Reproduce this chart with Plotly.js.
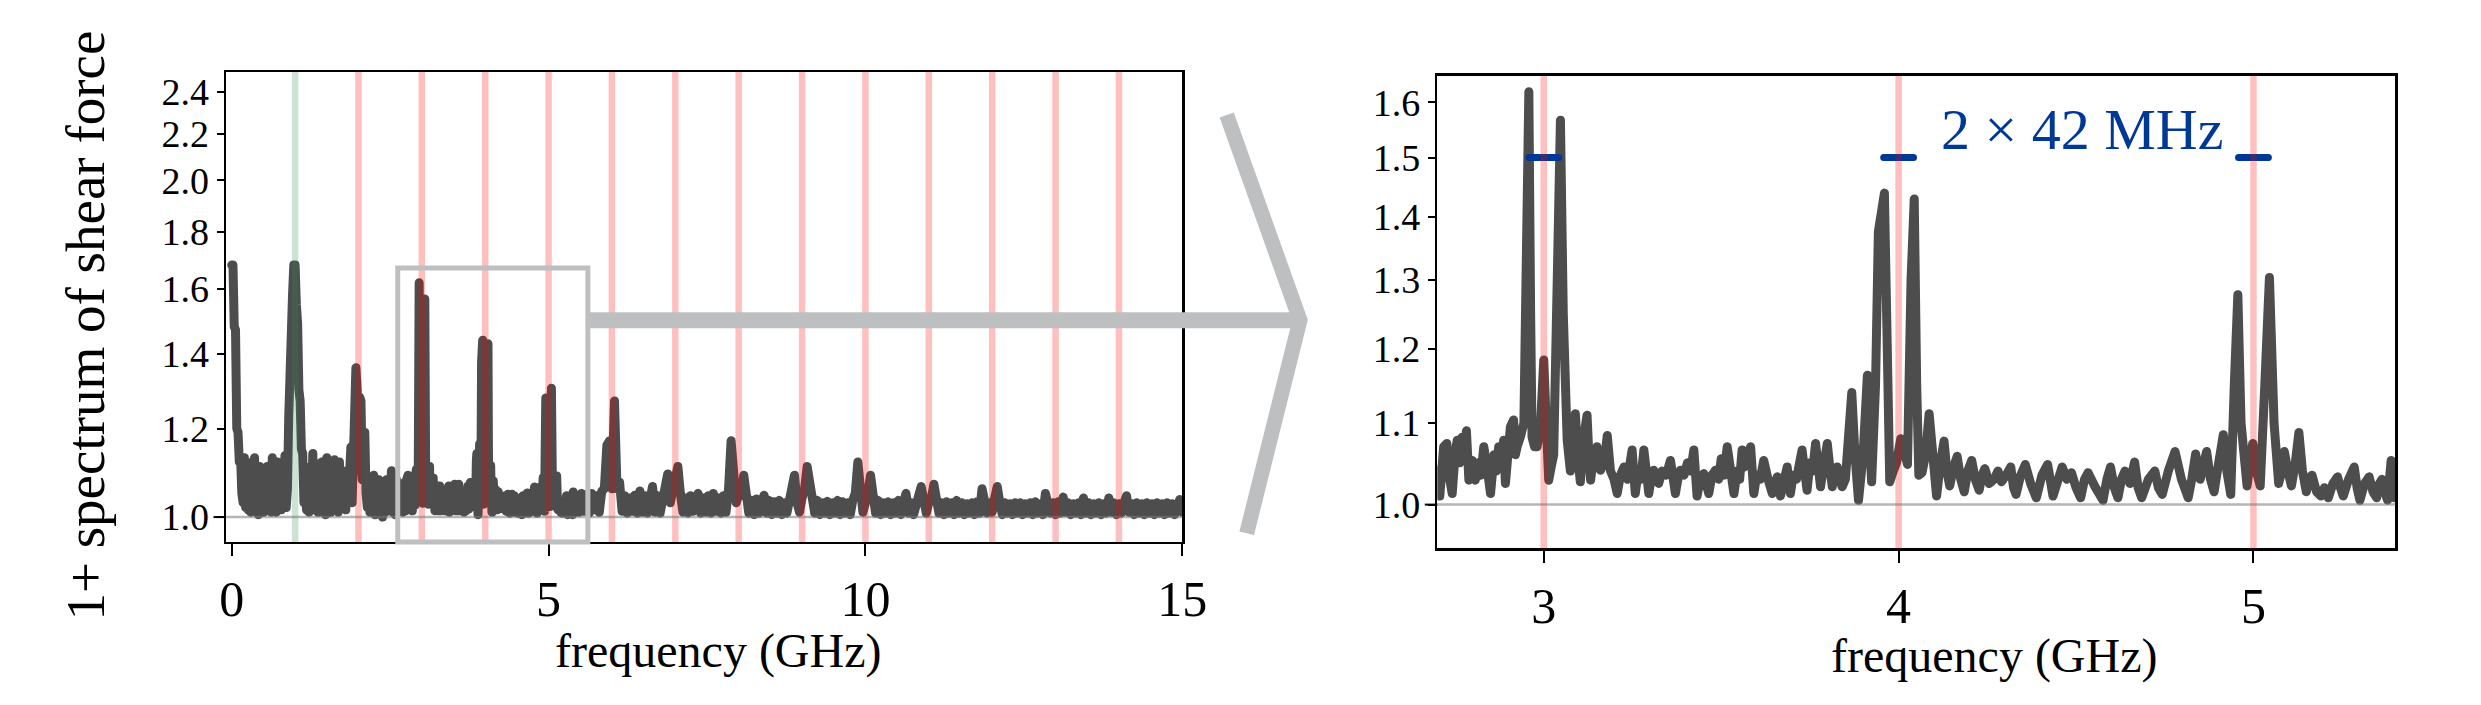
<!DOCTYPE html>
<html><head><meta charset="utf-8">
<script src="https://cdn.plot.ly/plotly-3.0.1.min.js"></script>
<style>
html,body{margin:0;padding:0;background:#fff;}
#chart{width:2481px;height:705px;}
.scatterlayer .js-line{stroke-linecap:round;stroke-linejoin:round;}
</style>
</head><body><div id="chart"></div>
<script>
// ---------- data (GHz, 1 + spectrum) ----------
const lowFreq = [
0.00,0.02,0.04,0.06,0.08,0.10,0.12,0.14,0.16,0.18,
0.20,0.22,0.24,0.26,0.28,0.30,0.32,0.34,0.36,0.38,
0.40,0.42,0.44,0.46,0.48,0.50,0.52,0.54,0.56,0.58,
0.60,0.62,0.64,0.66,0.68,0.70,0.72,0.74,0.76,0.78,
0.80,0.82,0.84,0.86,0.88,0.90,0.92,0.94,0.96,0.98,
1.00,1.02,1.04,1.06,1.08,1.10,1.12,1.14,1.16,1.18,
1.20,1.22,1.24,1.26,1.28,1.30,1.32,1.34,1.36,1.38,
1.40,1.42,1.44,1.46,1.48,1.50,1.52,1.54,1.56,1.58,
1.60,1.62,1.64,1.66,1.68,1.70,1.72,1.74,1.76,1.78,
1.80,1.82,1.84,1.86,1.88,1.90,1.92,1.94,1.96,1.98,
2.00,2.02,2.04,2.06,2.08,2.10,2.12,2.14,2.16,2.18,
2.20,2.22,2.24,2.26,2.28,2.30,2.32,2.34,2.36,2.38,
2.40,2.42,2.44,2.46,2.48,2.50,2.52,2.54,2.56,2.58,
2.60,2.62,2.64,2.66,2.68];
const lowAmp = [
1.68,1.68,1.48,1.47,1.20,1.19,1.12,1.13,1.05,1.03,
1.13,1.02,1.10,1.015,1.09,1.01,1.12,1.02,1.13,1.01,
1.08,1.005,1.11,1.02,1.07,1.01,1.10,1.015,1.11,1.02,
1.06,1.01,1.13,1.03,1.12,1.01,1.12,1.02,1.09,1.015,
1.11,1.03,1.135,1.02,1.06,1.23,1.50,1.53,1.58,1.68,
1.68,1.55,1.49,1.30,1.27,1.15,1.14,1.03,1.10,1.015,
1.09,1.01,1.11,1.02,1.14,1.015,1.08,1.116,1.01,1.09,
1.02,1.12,1.01,1.11,1.005,1.13,1.02,1.12,1.01,1.10,
1.015,1.125,1.02,1.11,1.01,1.12,1.03,1.10,1.02,1.09,
1.015,1.10,1.03,1.08,1.155,1.03,1.15,1.36,1.36,1.30,
1.10,1.28,1.27,1.08,1.19,1.19,1.05,1.02,1.08,1.01,
1.07,1.02,1.09,1.005,1.06,1.01,1.08,1.02,1.07,1.00,
1.06,1.01,1.08,1.015,1.05,1.02,1.10,1.01,1.07,1.005,
1.08,1.01,1.07,1.02,1.06];

const zoomFreq = [
2.700,2.707,2.718,2.727,2.735,2.742,2.750,2.756,2.763,2.770,
2.776,2.782,2.789,2.798,2.807,2.815,2.823,2.831,2.840,2.850,
2.860,2.866,2.873,2.880,2.887,2.892,2.899,2.906,2.915,2.920,
2.925,2.934,2.944,2.950,2.958,2.963,2.967,2.974,2.981,2.990,
3.000,3.007,3.014,3.021,3.028,3.038,3.047,3.055,3.060,3.066,
3.075,3.082,3.089,3.096,3.103,3.112,3.122,3.127,3.132,3.141,
3.150,3.160,3.170,3.179,3.188,3.198,3.207,3.216,3.226,3.236,
3.249,3.258,3.266,3.274,3.282,3.289,3.296,3.304,3.310,3.317,
3.324,3.333,3.345,3.357,3.364,3.371,3.378,3.385,3.395,3.405,
3.414,3.423,3.432,3.441,3.451,3.458,3.465,3.474,3.484,3.493,
3.500,3.508,3.517,3.527,3.536,3.545,3.552,3.559,3.566,3.575,
3.583,3.592,3.600,3.610,3.620,3.632,3.644,3.651,3.658,3.667,
3.676,3.686,3.695,3.703,3.712,3.720,3.728,3.735,3.742,3.750,
3.758,3.766,3.773,3.780,3.790,3.799,3.806,3.813,3.820,3.827,
3.834,3.841,3.850,3.860,3.868,3.877,3.887,3.900,3.912,3.918,
3.924,3.935,3.943,3.960,3.968,3.975,3.985,3.994,4.006,4.015,
4.025,4.035,4.044,4.051,4.057,4.066,4.076,4.086,4.097,4.107,
4.118,4.128,4.136,4.144,4.155,4.165,4.175,4.185,4.195,4.206,
4.216,4.227,4.235,4.243,4.255,4.269,4.280,4.290,4.303,4.316,
4.324,4.331,4.344,4.357,4.372,4.388,4.404,4.420,4.435,4.448,
4.461,4.474,4.487,4.500,4.513,4.524,4.534,4.555,4.576,4.587,
4.597,4.608,4.618,4.628,4.638,4.652,4.665,4.675,4.685,4.704,
4.722,4.732,4.743,4.760,4.779,4.797,4.816,4.826,4.837,4.850,
4.868,4.879,4.889,4.902,4.915,4.925,4.936,4.946,4.956,4.965,
4.982,4.990,4.998,5.008,5.019,5.032,5.045,5.058,5.071,5.080,
5.087,5.097,5.107,5.118,5.128,5.138,5.149,5.157,5.165,5.178,
5.190,5.200,5.211,5.224,5.237,5.245,5.253,5.268,5.284,5.292,
5.300,5.313,5.326,5.337,5.347,5.355,5.362,5.370,5.378,5.388,
5.397];
const zoomAmp = [
1.012,1.010,1.070,1.074,1.030,1.013,1.060,1.078,1.050,1.082,
1.055,1.090,1.029,1.053,1.029,1.050,1.035,1.070,1.045,1.013,
1.060,1.040,1.070,1.050,1.078,1.025,1.060,1.095,1.104,1.060,
1.070,1.082,1.100,1.300,1.620,1.250,1.082,1.070,1.070,1.090,
1.184,1.100,1.029,1.045,1.060,1.300,1.567,1.250,1.100,1.078,
1.040,1.090,1.112,1.060,1.027,1.080,1.110,1.060,1.029,1.060,
1.070,1.041,1.050,1.084,1.040,1.030,1.013,1.035,1.045,1.030,
1.066,1.013,1.040,1.030,1.066,1.040,1.013,1.035,1.041,1.030,
1.025,1.040,1.035,1.053,1.030,1.013,1.030,1.041,1.035,1.050,
1.040,1.066,1.010,1.030,1.037,1.025,1.013,1.035,1.041,1.030,
1.055,1.035,1.070,1.040,1.013,1.040,1.030,1.066,1.045,1.060,
1.070,1.013,1.035,1.030,1.053,1.030,1.013,1.025,1.033,1.010,
1.030,1.045,1.013,1.035,1.030,1.055,1.066,1.040,1.017,1.050,
1.040,1.074,1.045,1.021,1.050,1.074,1.045,1.021,1.040,1.045,
1.030,1.021,1.030,1.120,1.140,1.060,1.005,1.060,1.163,1.080,
1.027,1.150,1.376,1.439,1.150,1.027,1.040,1.050,1.080,1.060,
1.048,1.300,1.429,1.150,1.035,1.038,1.060,1.112,1.040,1.010,
1.050,1.077,1.040,1.022,1.045,1.058,1.030,1.015,1.040,1.053,
1.030,1.017,1.035,1.043,1.025,1.030,1.040,1.027,1.035,1.045,
1.020,1.012,1.035,1.048,1.025,1.008,1.035,1.048,1.010,1.030,
1.045,1.030,1.038,1.020,1.008,1.030,1.038,1.020,1.005,1.030,
1.045,1.020,1.008,1.030,1.040,1.025,1.051,1.020,1.008,1.030,
1.040,1.020,1.012,1.040,1.064,1.030,1.008,1.030,1.061,1.030,
1.064,1.030,1.015,1.050,1.085,1.040,1.012,1.150,1.278,1.100,
1.022,1.050,1.074,1.040,1.022,1.150,1.304,1.100,1.025,1.040,
1.064,1.040,1.022,1.050,1.088,1.040,1.015,1.030,1.035,1.015,
1.010,1.020,1.008,1.025,1.033,1.020,1.010,1.030,1.045,1.020,
1.005,1.025,1.033,1.015,1.008,1.025,1.030,1.015,1.005,1.053,
1.008];

const highFreq = [
5.44,5.48,5.52,5.56,5.60,5.64,5.68,5.72,5.76,5.80,5.84,5.88,5.92,5.96,6.00,6.04,6.08,6.12,6.16,6.20,6.24,6.28,6.32,6.36,6.40,
6.44,6.48,6.52,6.56,6.60,6.64,6.68,6.72,6.76,6.80,6.84,6.88,6.92,6.96,7.00,7.04,7.08,7.12,7.16,7.20,7.24,7.28,7.32,7.36,7.40,
7.44,7.48,7.52,7.56,7.60,7.64,7.68,7.72,7.76,7.80,7.84,7.88,7.92,7.96,8.00,8.04,8.08,8.12,8.16,8.20,8.24,8.28,8.32,8.36,8.40,
8.44,8.48,8.52,8.56,8.60,8.64,8.68,8.72,8.76,8.80,8.84,8.88,8.92,8.96,9.00,9.04,9.08,9.12,9.16,9.20,9.24,9.28,9.32,9.36,9.40,
9.44,9.48,9.52,9.56,9.60,9.64,9.68,9.72,9.76,9.80,9.84,9.88,9.92,9.96,10.00,10.04,10.08,10.12,10.16,10.20,10.24,10.28,10.32,10.36,10.40,
10.44,10.48,10.52,10.56,10.60,10.64,10.68,10.72,10.76,10.80,10.84,10.88,10.92,10.96,11.00,11.04,11.08,11.12,11.16,11.20,11.24,11.28,11.32,11.36,11.40,
11.44,11.48,11.52,11.56,11.60,11.64,11.68,11.72,11.76,11.80,11.84,11.88,11.92,11.96,12.00,12.04,12.08,12.12,12.16,12.20,12.24,12.28,12.32,12.36,12.40,
12.44,12.48,12.52,12.56,12.60,12.64,12.68,12.72,12.76,12.80,12.84,12.88,12.92,12.96,13.00,13.04,13.08,13.12,13.16,13.20,13.24,13.28,13.32,13.36,13.40,
13.44,13.48,13.52,13.56,13.60,13.64,13.68,13.72,13.76,13.80,13.84,13.88,13.92,13.96,14.00,14.04,14.08,14.12,14.16,14.20,14.24,14.28,14.32,14.36,14.40,
14.44,14.48,14.52,14.56,14.60,14.64,14.68,14.72,14.76,14.80,14.84,14.88,14.92,14.96,15.00];
const highAmp = [
1.045,1.010,1.050,1.012,1.048,1.008,1.050,1.015,1.045,1.010,1.055,1.06,1.16,1.17,1.06,1.27,1.06,1.075,1.012,1.045,1.008,1.040,1.012,1.046,1.008,
1.055,1.010,1.045,1.008,1.040,1.065,1.010,1.045,1.008,1.040,1.070,1.093,1.030,1.050,1.070,1.110,1.050,1.010,1.040,1.008,1.045,1.012,1.035,1.050,1.008,
1.040,1.010,1.045,1.008,1.050,1.012,1.040,1.008,1.045,1.010,1.060,1.170,1.095,1.030,1.050,1.045,1.090,1.040,1.008,1.035,1.005,1.038,1.008,1.030,1.046,
1.008,1.035,1.005,1.032,1.008,1.035,1.005,1.030,1.008,1.035,1.050,1.090,1.030,1.010,1.040,1.060,1.110,1.070,1.040,1.008,1.035,1.005,1.030,1.008,1.033,
1.005,1.030,1.008,1.035,1.005,1.032,1.008,1.030,1.005,1.035,1.050,1.120,1.060,1.010,1.030,1.050,1.090,1.050,1.008,1.035,1.005,1.030,1.008,1.032,1.005,
1.030,1.008,1.035,1.005,1.030,1.050,1.008,1.030,1.005,1.035,1.045,1.065,1.030,1.008,1.030,1.040,1.070,1.040,1.008,1.030,1.005,1.032,1.008,1.030,1.005,
1.035,1.008,1.030,1.005,1.028,1.008,1.030,1.005,1.032,1.008,1.060,1.030,1.008,1.030,1.010,1.040,1.065,1.030,1.005,1.030,1.008,1.028,1.005,1.030,1.008,
1.030,1.005,1.028,1.008,1.030,1.005,1.032,1.008,1.028,1.005,1.050,1.030,1.008,1.030,1.005,1.032,1.008,1.042,1.010,1.030,1.005,1.028,1.008,1.030,1.005,
1.040,1.008,1.030,1.005,1.028,1.008,1.030,1.005,1.028,1.008,1.040,1.010,1.030,1.005,1.028,1.008,1.030,1.045,1.010,1.028,1.005,1.030,1.008,1.028,1.005,
1.030,1.008,1.028,1.005,1.030,1.008,1.028,1.005,1.030,1.008,1.028,1.005,1.030,1.037,1.010];

const driveFreqs = [1];                       // green marker line
const harmonicFreqs = [2,3,4,5,6,7,8,9,10,11,12,13,14];
const zoomHarmonics = [3,4,5];
const splitHalfWidth = 0.042;                 // GHz (42 MHz)
const splitLevel = 1.5;
const splitLabel = '2 \u00d7 42 MHz';
const splitLabelPos = {x: 4.518, y: 1.55};
const zoomBoxX = [2.62, 5.62];
const zoomBoxY = [0.95, 1.67];
const arrowLevel = 1.5;
const xTicksLeft = [0,5,10,15];
const yTicksLeft = [1.0,1.2,1.4,1.6,1.8,2.0,2.2,2.4];
const xTicksRight = [3,4,5];
const yTicksRight = [1.0,1.1,1.2,1.3,1.4,1.5,1.6];
const xTitle = 'frequency (GHz)';
const yTitle = '1+ spectrum of shear force';

// ---------- build ----------
const allFreq = lowFreq.concat(zoomFreq, highFreq);
const allAmp = lowAmp.concat(zoomAmp, highAmp);

const FONT = 'Liberation Serif, Times New Roman, serif';
const XTICK = 50, YTICK = 38;
const baseAxis = {
  showline:true, mirror:true, linewidth:2.5, linecolor:'#000',
  ticks:'outside', tickwidth:2, tickcolor:'#000',
  showgrid:false, zeroline:false, color:'#000', fixedrange:true
};
const layout = {
  width:2481, height:705,
  margin:{l:0,r:0,t:0,b:0,pad:0},
  paper_bgcolor:'#fff', plot_bgcolor:'#fff', showlegend:false,
  font:{family:FONT, color:'#000'},
  xaxis:Object.assign({}, baseAxis, {domain:[0.091093,0.476542], range:[-0.09,15], anchor:'y',
        tickvals:xTicksLeft, ticktext:xTicksLeft.map(String), ticklen:12, tickfont:{size:XTICK, family:FONT}}),
  yaxis:Object.assign({}, baseAxis, {domain:[0.231206,0.897872], type:'log', range:[Math.log10(0.95), Math.log10(2.5)], anchor:'x',
        tickvals:yTicksLeft, ticktext:yTicksLeft.map(v=>v.toFixed(1)), ticklen:7, tickfont:{size:YTICK, family:FONT}}),
  xaxis2:Object.assign({}, baseAxis, {domain:[0.579323,0.965498], range:[2.7,5.4], anchor:'y2',
        tickvals:xTicksRight, ticktext:xTicksRight.map(String), ticklen:12, tickfont:{size:XTICK, family:FONT}}),
  yaxis2:Object.assign({}, baseAxis, {domain:[0.221986,0.892199], type:'log', range:[Math.log10(0.95), Math.log10(1.65)], anchor:'x2',
        tickvals:yTicksRight, ticktext:yTicksRight.map(v=>v.toFixed(1)), ticklen:7, tickfont:{size:YTICK, family:FONT}}),
  shapes:[], annotations:[]
};

function toPaper(axName, v){
  const a = layout[axName];
  const t = a.type === 'log' ? Math.log10(v) : v;
  return a.domain[0] + (t - a.range[0]) / (a.range[1] - a.range[0]) * (a.domain[1] - a.domain[0]);
}

const RED = 'rgba(255,0,0,0.25)';
const GREEN = 'rgba(46,139,87,0.25)';
driveFreqs.forEach(f => layout.shapes.push({type:'line', xref:'x', yref:'y domain', x0:f, x1:f, y0:0, y1:1, layer:'above', line:{color:GREEN, width:6.5}}));
harmonicFreqs.forEach(f => layout.shapes.push({type:'line', xref:'x', yref:'y domain', x0:f, x1:f, y0:0, y1:1, layer:'above', line:{color:RED, width:6.5}}));
zoomHarmonics.forEach(f => layout.shapes.push({type:'line', xref:'x2', yref:'y2 domain', x0:f, x1:f, y0:0, y1:1, layer:'above', line:{color:RED, width:6.5}}));
// baseline at 1
[['x','y'],['x2','y2']].forEach(([xr,yr]) => layout.shapes.push({type:'line', xref:xr+' domain', yref:yr, x0:0, x1:1, y0:1, y1:1, layer:'above', line:{color:'rgba(120,120,120,0.55)', width:2.5}}));
// longer major tick at 1.0
[['xaxis','yaxis'],['xaxis2','yaxis2']].forEach(([xa,ya]) => {
  const x0 = layout[xa].domain[0];
  const yy = toPaper(ya, 1.0);
  layout.shapes.push({type:'line', xref:'paper', yref:'paper', x0:x0 - 12.5/2481, x1:x0, y0:yy, y1:yy, line:{color:'#000', width:2}});
});
// zoom box + arrow
const GREY = '#bebfc1';
const bx0 = toPaper('xaxis', zoomBoxX[0]), bx1 = toPaper('xaxis', zoomBoxX[1]);
const by0 = toPaper('yaxis', zoomBoxY[0]), by1 = toPaper('yaxis', zoomBoxY[1]);
layout.shapes.push({type:'rect', xref:'paper', yref:'paper', x0:bx0, x1:bx1, y0:by0, y1:by1, layer:'above', line:{color:GREY, width:5}});
const ay = toPaper('yaxis', arrowLevel);
const tipX = 0.52398;
layout.shapes.push({type:'line', xref:'paper', yref:'paper', x0:bx1, x1:tipX, y0:ay, y1:ay, layer:'above', line:{color:GREY, width:16}});
layout.shapes.push({type:'path', xref:'paper', yref:'paper', layer:'above',
  path:`M 0.49444 0.83688 L ${tipX} ${ay} L 0.50250 0.24355`, line:{color:GREY, width:15}});

// annotations
layout.annotations.push({xref:'x2', yref:'y2', x:splitLabelPos.x, y:Math.log10(splitLabelPos.y), text:splitLabel, showarrow:false,
  xanchor:'center', yanchor:'middle', font:{size:58, family:FONT, color:'#003896'}});
layout.annotations.push({xref:'paper', yref:'paper', x:0.28940, y:0.07688, text:xTitle, showarrow:false, xanchor:'center', yanchor:'middle', font:{size:48, family:FONT, color:'#000'}});
layout.annotations.push({xref:'paper', yref:'paper', x:0.80371, y:0.0690, text:xTitle, showarrow:false, xanchor:'center', yanchor:'middle', font:{size:48, family:FONT, color:'#000'}});
layout.annotations.push({xref:'paper', yref:'paper', x:0.0345, y:0.5376, text:yTitle, showarrow:false, textangle:-90, xanchor:'center', yanchor:'middle', font:{size:55, family:FONT, color:'#000'}});

// split bars
const sbx = [], sby = [];
zoomHarmonics.forEach(c => { sbx.push(c - splitHalfWidth, c + splitHalfWidth, null); sby.push(splitLevel, splitLevel, null); });

const traces = [
  {x:allFreq, y:allAmp, xaxis:'x', yaxis:'y', mode:'lines', line:{color:'#4d4d4d', width:9}, hoverinfo:'skip'},
  {x:allFreq, y:allAmp, xaxis:'x2', yaxis:'y2', mode:'lines', line:{color:'#4d4d4d', width:9}, hoverinfo:'skip'},
  {x:sbx, y:sby, xaxis:'x2', yaxis:'y2', mode:'lines', line:{color:'#003896', width:7}, hoverinfo:'skip'}
];

Plotly.newPlot('chart', traces, layout, {staticPlot:true, displayModeBar:false});
</script>
</body></html>
